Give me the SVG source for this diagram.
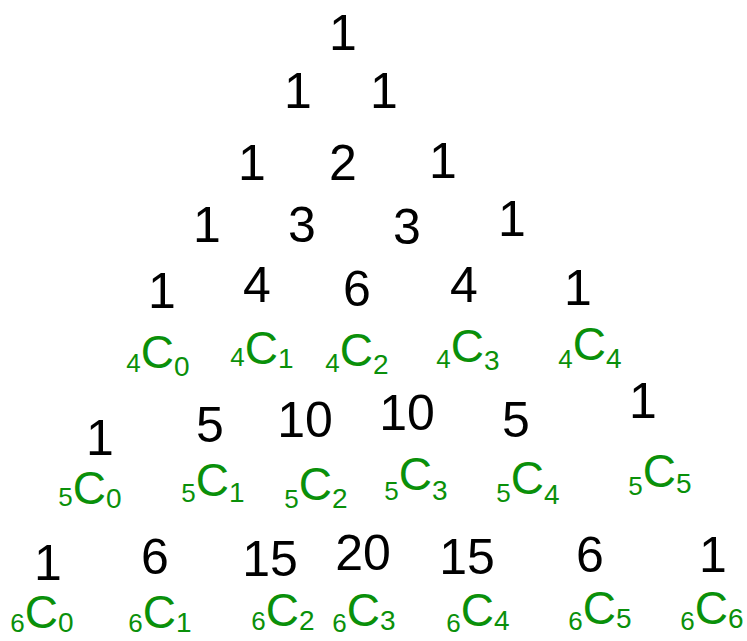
<svg xmlns="http://www.w3.org/2000/svg" width="747" height="641" viewBox="0 0 747 641">
<style>
.n{font-family:"Liberation Sans","DejaVu Sans",sans-serif;font-size:50px;fill:#000;text-anchor:middle}
.g{font-family:"Liberation Sans","DejaVu Sans",sans-serif;fill:#0a900a;text-anchor:middle}
.p{font-size:26px}
.c{font-size:46px}
.s{font-size:28px}
</style>
<rect width="747" height="641" fill="#fff"/>
<g id="row0"><text class="n" x="343" y="50">1</text></g>
<g id="row1"><text class="n" x="298" y="108">1</text><text class="n" x="384" y="108">1</text></g>
<g id="row2"><text class="n" x="252" y="180">1</text><text class="n" x="343" y="180">2</text><text class="n" x="443" y="178">1</text></g>
<g id="row3"><text class="n" x="207" y="242">1</text><text class="n" x="302" y="242">3</text><text class="n" x="407" y="244">3</text><text class="n" x="512" y="236">1</text></g>
<g id="row4"><text class="n" x="162" y="308">1</text><text class="n" x="257" y="302">4</text><text class="n" x="357" y="306">6</text><text class="n" x="464" y="302">4</text><text class="n" x="578" y="305">1</text></g>
<g id="row4c">
<text class="g" x="158" y="372"><tspan class="p">4</tspan><tspan class="c" dy="-4">C</tspan><tspan class="s" dy="8">0</tspan></text>
<text class="g" x="262" y="366"><tspan class="p">4</tspan><tspan class="c" dy="-2">C</tspan><tspan class="s" dy="4">1</tspan></text>
<text class="g" x="357" y="372"><tspan class="p">4</tspan><tspan class="c" dy="-6">C</tspan><tspan class="s" dy="8">2</tspan></text>
<text class="g" x="468" y="368"><tspan class="p">4</tspan><tspan class="c" dy="-6">C</tspan><tspan class="s" dy="8">3</tspan></text>
<text class="g" x="590" y="368"><tspan class="p">4</tspan><tspan class="c" dy="-8">C</tspan><tspan class="s" dy="8">4</tspan></text>
</g>
<g id="row5"><text class="n" x="100" y="455">1</text><text class="n" x="210" y="442">5</text><text class="n" x="305" y="437">10</text><text class="n" x="407" y="430">10</text><text class="n" x="516" y="437">5</text><text class="n" x="643" y="418">1</text></g>
<g id="row5c">
<text class="g" x="90" y="506"><tspan class="p">5</tspan><tspan class="c" dy="-2">C</tspan><tspan class="s" dy="4">0</tspan></text>
<text class="g" x="213" y="502"><tspan class="p">5</tspan><tspan class="c" dy="-6">C</tspan><tspan class="s" dy="6">1</tspan></text>
<text class="g" x="316" y="508"><tspan class="p">5</tspan><tspan class="c" dy="-8">C</tspan><tspan class="s" dy="8">2</tspan></text>
<text class="g" x="416" y="500"><tspan class="p">5</tspan><tspan class="c" dy="-10">C</tspan><tspan class="s" dy="10">3</tspan></text>
<text class="g" x="528" y="502"><tspan class="p">5</tspan><tspan class="c" dy="-8">C</tspan><tspan class="s" dy="10">4</tspan></text>
<text class="g" x="660" y="495"><tspan class="p">5</tspan><tspan class="c" dy="-8">C</tspan><tspan class="s" dy="6">5</tspan></text>
</g>
<g id="row6"><text class="n" x="48" y="580">1</text><text class="n" x="155" y="574">6</text><text class="n" x="270" y="576">15</text><text class="n" x="363" y="570">20</text><text class="n" x="467" y="574">15</text><text class="n" x="590" y="572">6</text><text class="n" x="713" y="572">1</text></g>
<g id="row6c">
<text class="g" x="42" y="632"><tspan class="p">6</tspan><tspan class="c" dy="-4">C</tspan><tspan class="s" dy="4">0</tspan></text>
<text class="g" x="160" y="632"><tspan class="p">6</tspan><tspan class="c" dy="-4">C</tspan><tspan class="s" dy="4">1</tspan></text>
<text class="g" x="283" y="630"><tspan class="p">6</tspan><tspan class="c" dy="-4">C</tspan><tspan class="s" dy="4">2</tspan></text>
<text class="g" x="364" y="632"><tspan class="p">6</tspan><tspan class="c" dy="-6">C</tspan><tspan class="s" dy="4">3</tspan></text>
<text class="g" x="478" y="632"><tspan class="p">6</tspan><tspan class="c" dy="-6">C</tspan><tspan class="s" dy="4">4</tspan></text>
<text class="g" x="600" y="630"><tspan class="p">6</tspan><tspan class="c" dy="-6">C</tspan><tspan class="s" dy="4">5</tspan></text>
<text class="g" x="712" y="630"><tspan class="p">6</tspan><tspan class="c" dy="-6">C</tspan><tspan class="s" dy="4">6</tspan></text>
</g>
</svg>
